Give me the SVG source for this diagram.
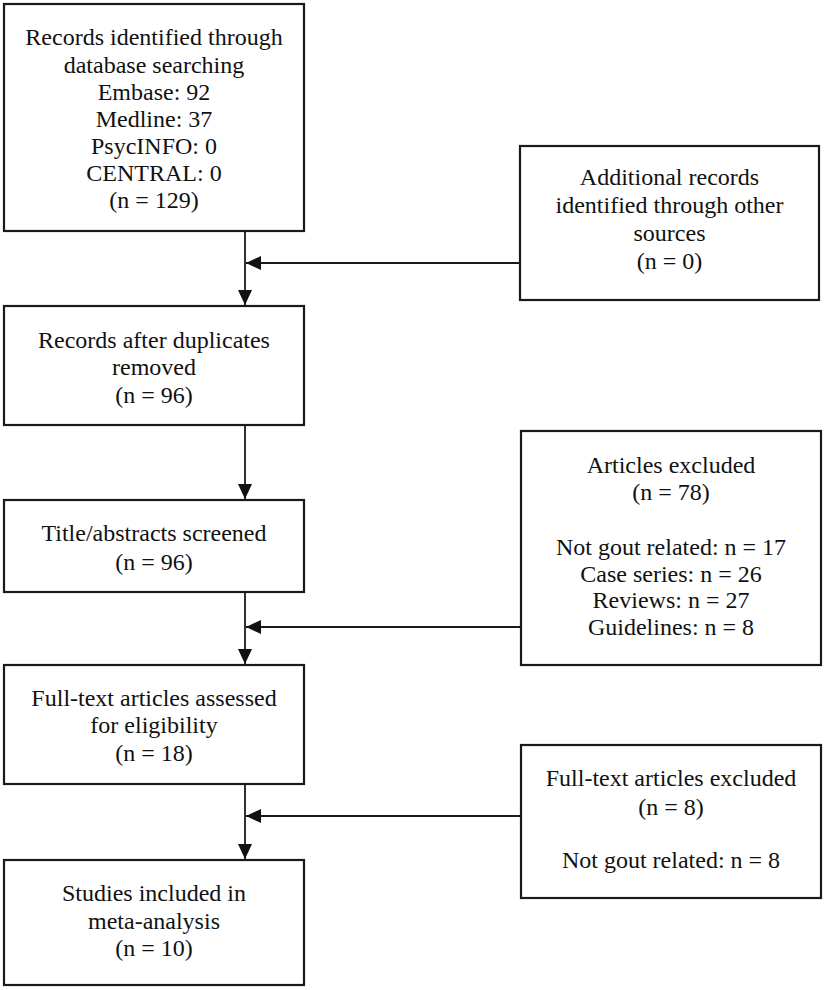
<svg xmlns="http://www.w3.org/2000/svg" width="824" height="990" viewBox="0 0 824 990">
<style>
.box{fill:#fff;stroke:#1a1a1a;stroke-width:2.2}
.t{font-family:"Liberation Serif","Times New Roman",serif;font-size:24px;fill:#111;text-anchor:middle}
.ln{stroke:#1a1a1a;stroke-width:1.8;fill:none}
</style>
<defs>
<marker id="ah" markerWidth="10" markerHeight="10" refX="9" refY="5" orient="auto" markerUnits="userSpaceOnUse" viewBox="0 0 10 10">
<path d="M0,0 L10,5 L0,10 Z" fill="#111"/>
</marker>
<marker id="ah2" markerWidth="15" markerHeight="14" refX="15" refY="7" orient="auto" markerUnits="userSpaceOnUse" viewBox="0 0 15 14">
<path d="M0,0 L15,7 L0,14 Z" fill="#111"/>
</marker>
</defs>
<rect width="824" height="990" fill="#fff"/>
<g id="connectors">
<line class="ln" x1="245" y1="231" x2="245" y2="305" marker-end="url(#ah2)"/>
<line class="ln" x1="520" y1="263" x2="246" y2="263" marker-end="url(#ah2)"/>
<line class="ln" x1="245" y1="425" x2="245" y2="499" marker-end="url(#ah2)"/>
<line class="ln" x1="245" y1="592" x2="245" y2="664" marker-end="url(#ah2)"/>
<line class="ln" x1="521" y1="627" x2="246" y2="627" marker-end="url(#ah2)"/>
<line class="ln" x1="245" y1="784" x2="245" y2="859" marker-end="url(#ah2)"/>
<line class="ln" x1="521" y1="816" x2="246" y2="816" marker-end="url(#ah2)"/>
</g>
<g id="n1">
<rect class="box" x="4" y="4" width="300" height="227"/>
<text class="t" x="154" y="45">Records identified through</text>
<text class="t" x="154" y="73">database searching</text>
<text class="t" x="154" y="100">Embase: 92</text>
<text class="t" x="154" y="127">Medline: 37</text>
<text class="t" x="154" y="154">PsycINFO: 0</text>
<text class="t" x="154" y="181">CENTRAL: 0</text>
<text class="t" x="154" y="208">(n = 129)</text>
</g>
<g id="n2">
<rect class="box" x="520" y="146" width="299" height="154"/>
<text class="t" x="669.5" y="185">Additional records</text>
<text class="t" x="669.5" y="213">identified through other</text>
<text class="t" x="669.5" y="241">sources</text>
<text class="t" x="669.5" y="269">(n = 0)</text>
</g>
<g id="n3">
<rect class="box" x="4" y="306" width="300" height="119"/>
<text class="t" x="154" y="348">Records after duplicates</text>
<text class="t" x="154" y="375">removed</text>
<text class="t" x="154" y="403">(n = 96)</text>
</g>
<g id="n4">
<rect class="box" x="4" y="500" width="300" height="92"/>
<text class="t" x="154" y="541">Title/abstracts screened</text>
<text class="t" x="154" y="570">(n = 96)</text>
</g>
<g id="n5">
<rect class="box" x="521" y="431" width="300" height="234"/>
<text class="t" x="671" y="473">Articles excluded</text>
<text class="t" x="671" y="500">(n = 78)</text>
<text class="t" x="671" y="555">Not gout related: n = 17</text>
<text class="t" x="671" y="582">Case series: n = 26</text>
<text class="t" x="671" y="608">Reviews: n = 27</text>
<text class="t" x="671" y="635">Guidelines: n = 8</text>
</g>
<g id="n6">
<rect class="box" x="4" y="665" width="300" height="119"/>
<text class="t" x="154" y="706">Full-text articles assessed</text>
<text class="t" x="154" y="733">for eligibility</text>
<text class="t" x="154" y="761">(n = 18)</text>
</g>
<g id="n7">
<rect class="box" x="521" y="745" width="300" height="153"/>
<text class="t" x="671" y="786">Full-text articles excluded</text>
<text class="t" x="671" y="815">(n = 8)</text>
<text class="t" x="671" y="868">Not gout related: n = 8</text>
</g>
<g id="n8">
<rect class="box" x="4" y="860" width="300" height="125"/>
<text class="t" x="154" y="901">Studies included in</text>
<text class="t" x="154" y="929">meta-analysis</text>
<text class="t" x="154" y="956">(n = 10)</text>
</g>
</svg>
